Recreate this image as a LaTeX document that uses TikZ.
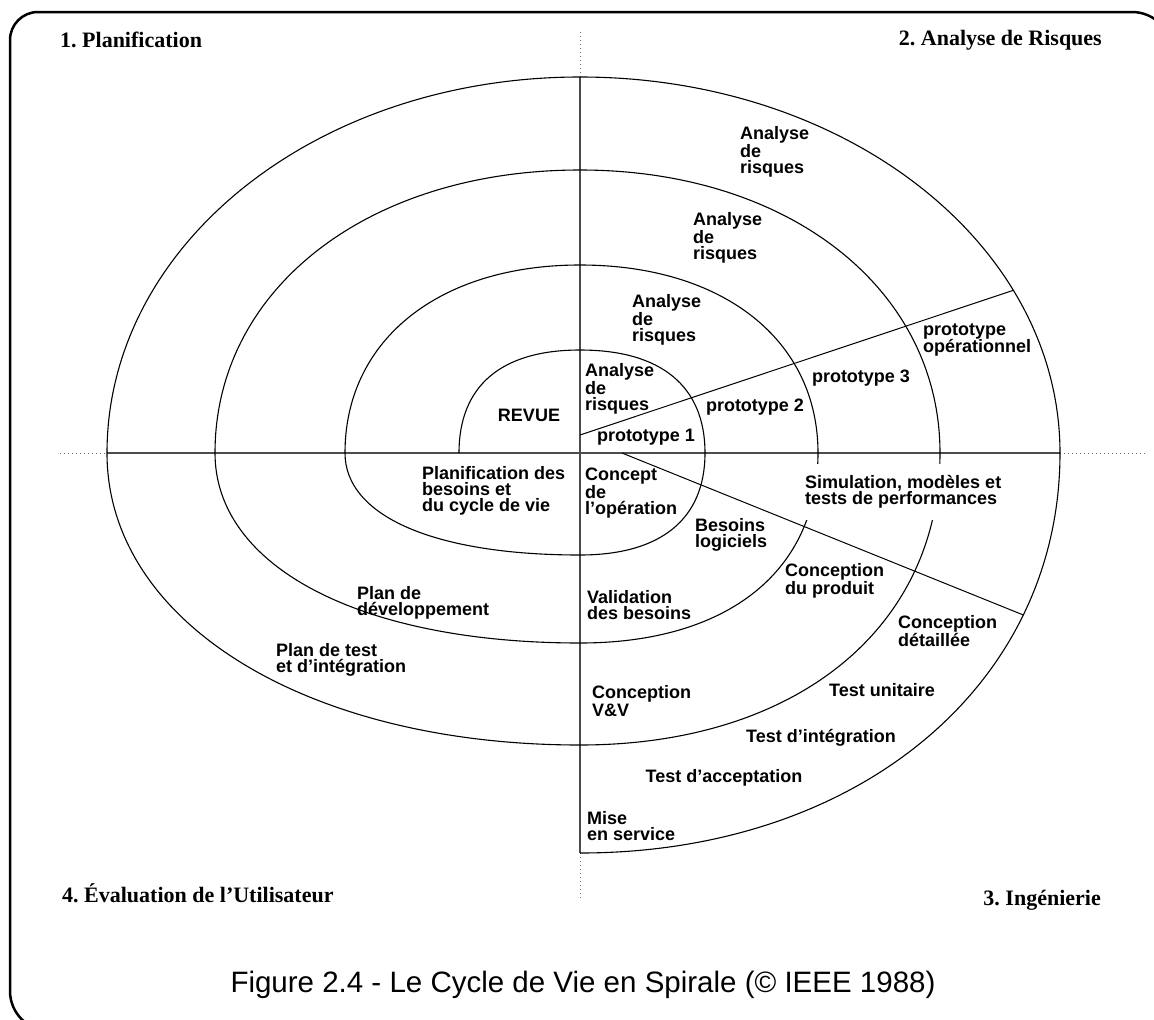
\documentclass[tikz,border=0pt]{standalone}
\usepackage{fontspec}
\setmainfont{Liberation Serif}
\newfontfamily\labfont{Liberation Sans}
\usetikzlibrary{intersections}
\begin{document}
\frenchspacing
\begin{tikzpicture}[x=1pt,y=-1pt,
  lab/.style={font=\labfont\bfseries\fontsize{18}{16}\selectfont, align=left, inner sep=0pt, anchor=west},
  quad/.style={font=\rmfamily\bfseries\fontsize{22}{26}\selectfont, inner sep=0pt},
  spiral/.style={line width=1.1pt, black},
  axisline/.style={line width=1.6pt, black!70},
  dotline/.style={line width=1pt, black!55, dash pattern=on 1pt off 3pt},
  diag/.style={line width=1pt, black},
  frame/.style={line width=2.5pt, black}]
\useasboundingbox (0,0) rectangle (1154,1020);
\begin{scope}
\clip (0,0) rectangle (1154,1020);
\draw[frame] (1172,80) [rounded corners=40pt] -- (1172,12) -- (600,12) [rounded corners=28pt] -- (10,12) [rounded corners=40pt] -- (10,1031) -- (600,1031);
\end{scope}
% key points
\coordinate (c) at (580,453);
\coordinate (hld) at (60,453);
\coordinate (hl) at (107,453);
\coordinate (hr) at (1060,453);
\coordinate (hrd) at (1145,453);
\coordinate (vtd) at (580,32);
\coordinate (vt) at (580,77);
\coordinate (vb) at (580,853);
\coordinate (vbd) at (580,900);
\coordinate (d1a) at (580,435);
\coordinate (d1dir) at (1110,258);
\coordinate (d2a) at (622,453);
\coordinate (d2dir) at (1110,650);
% spiral points
\coordinate (s0) at (459,453);
\coordinate (t1) at (580,350);
\coordinate (r1) at (705,453);
\coordinate (b1) at (580,555);
\coordinate (l1) at (345,453);
\coordinate (t2) at (580,265);
\coordinate (r2) at (818,453);
\coordinate (b2) at (580,643);
\coordinate (l2) at (215,453);
\coordinate (t3) at (580,170);
\coordinate (r3) at (940,453);
\coordinate (b3) at (580,745);
% axes
\draw[axisline] (hl) -- (hr);
\draw[axisline] (vt) -- (vb);
\draw[dotline] (hld) -- (hl);
\draw[dotline] (hr) -- (hrd);
\draw[dotline] (vtd) -- (vt);
\draw[dotline] (vb) -- (vbd);
% spiral
\draw[spiral] (s0)
  .. controls (459,386) and (501,350) .. (t1)
  .. controls (661,350) and (705,386) .. (r1)
  .. controls (705,519) and (661,555) .. (b1)
  .. controls (434,555) and (345,516) .. (l1)
  .. controls (345,340) and (439,265) .. (t2)
  .. controls (723,265) and (818,340) .. (r2)
  .. controls (818,571) and (728,643) .. (b2)
  .. controls (361,643) and (215,567) .. (l2)
  .. controls (215,289) and (368,170) .. (t3)
  .. controls (789,170) and (940,289) .. (r3)
  .. controls (940,628) and (796,745) .. (b3)
  .. controls (306,745) and (107,622) .. (hl)
  .. controls (107,244) and (317,77) .. (vt);
\draw[spiral, name path=outerup] (vt) .. controls (846,77) and (1060,244) .. (hr);
\draw[spiral, name path=outerdown] (hr) .. controls (1060,685) and (858,853) .. (vb);
% diagonals ending on the outer curve
\path[name path=diagup] (d1a) -- (d1dir);
\path[name path=diagdown] (d2a) -- (d2dir);
\path[name intersections={of=diagup and outerup, by=d1b}];
\path[name intersections={of=diagdown and outerdown, by=d2b}];
\draw[diag] (d1a) -- (d1b);
\draw[diag] (d2a) -- (d2b);
% labels
\node[lab] (ar1) at (740,152) {Analyse\\de\\risques};
\node[lab] (ar2) at (693,238) {Analyse\\de\\risques};
\node[lab] (ar3) at (632,320) {Analyse\\de\\risques};
\node[lab] (ar4) at (585,389) {Analyse\\de\\risques};
\node[lab,anchor=center] (revue) at (529,415) {REVUE};
\node[lab,anchor=center] (p1) at (646,437) {prototype 1};
\node[lab,anchor=center] (p2) at (755,407) {prototype 2};
\node[lab,anchor=center] (p3) at (861,378) {prototype 3};
\node[lab] (pop) at (923,340) {prototype\\opérationnel};
\node[lab, fill=white, inner ysep=12pt, inner xsep=2pt] (sim) at (803,492) {Simulation, modèles et\\tests de performances};
\node[lab] (cop) at (585,493) {Concept\\de\\l’opération};
\node[lab] (bl) at (695,535) {Besoins\\logiciels};
\node[lab] (cp) at (785,581) {Conception\\du produit};
\node[lab] (vbs) at (587,605) {Validation\\des besoins};
\node[lab] (cd) at (898,631) {Conception\\détaillée};
\node[lab,anchor=center] (tu) at (882,690) {Test unitaire};
\node[lab,anchor=center] (ti) at (821,738) {Test d’intégration};
\node[lab,anchor=center] (ta) at (724,778) {Test d’acceptation};
\node[lab] (ms) at (587,826) {Mise\\en service};
\node[lab] (cvv) at (592,701) {Conception\\V\&V};
\node[lab] (pb) at (422,491) {Planification des\\besoins et\\du cycle de vie};
\node[lab] (pd) at (357,603) {Plan de\\développement};
\node[lab] (pt) at (276,660) {Plan de test\\et d’intégration};
% quadrant titles
\node[quad, anchor=west] (q1) at (60,40) {1. Planification};
\node[quad, anchor=east] (q2) at (1102,40) {2. Analyse de Risques};
\node[quad, anchor=west] (q4) at (62,893) {4. Évaluation de l’Utilisateur};
\node[quad, anchor=east] (q3) at (1101,900) {3. Ingénierie};
% caption
\node[font=\labfont\fontsize{29.5}{34}\selectfont, inner sep=0pt] (cap) at (583,985) {Figure 2.4 - Le Cycle de Vie en Spirale (© IEEE 1988)};
\end{tikzpicture}
\end{document}
